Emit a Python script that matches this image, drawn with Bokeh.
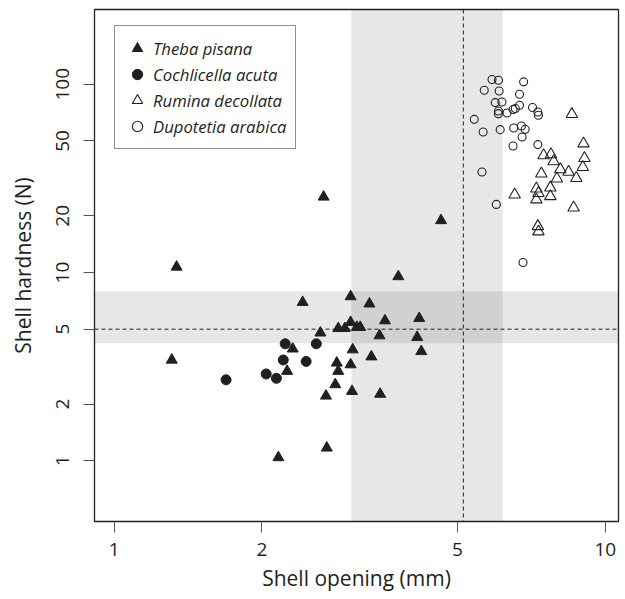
from bokeh.plotting import figure
from bokeh.models import (Range1d, FixedTicker, NumeralTickFormatter, BoxAnnotation,
                          Span, Legend, LegendItem)
from bokeh.embed import file_html
from bokeh.resources import INLINE

# ---- data ----
theba_x = [1.31, 1.34, 2.16, 2.25, 2.31, 2.42, 2.63, 2.67, 2.71, 2.70, 2.82, 2.84, 2.86, 2.86,
           2.95, 3.03, 3.03, 3.03, 3.05, 3.06, 3.12, 3.17, 3.31, 3.34, 3.47, 3.48, 3.56, 3.79,
           4.14, 4.18, 4.22, 4.63]
theba_y = [3.43, 10.7, 1.04, 2.99, 3.93, 6.95, 4.78, 25.2, 1.17, 2.21, 2.54, 3.31, 2.99, 5.05,
           5.05, 7.45, 5.44, 3.24, 2.34, 3.89, 5.12, 5.12, 6.82, 3.57, 4.62, 2.26, 5.55, 9.52,
           4.53, 5.71, 3.81, 18.9]

cochlicella_x = [1.69, 2.04, 2.14, 2.21, 2.23, 2.46, 2.58]
cochlicella_y = [2.69, 2.89, 2.74, 3.43, 4.18, 3.37, 4.18]

rumina_x = [8.55, 9.03, 9.07, 9.00, 7.49, 7.75, 7.85, 8.10, 8.42, 8.73, 7.97, 7.41, 7.73, 7.24,
            7.31, 7.24, 7.73, 6.54, 8.62, 7.29, 7.31]
rumina_y = [69.3, 48.4, 40.5, 36.3, 41.9, 42.4, 38.9, 35.3, 34.2, 31.7, 31.5, 33.5, 28.2, 27.9,
            26.4, 24.4, 25.4, 25.9, 22.1, 17.6, 16.5]

dupotetia_x = [5.88, 6.06, 6.82, 5.67, 6.08, 6.69, 5.97, 6.16, 6.06, 6.06, 6.31, 6.49, 6.56, 6.69,
               7.11, 7.29, 7.31, 5.41, 5.64, 6.11, 6.51, 6.75, 6.87, 6.77, 6.49, 7.29, 5.61, 6.00,
               6.80]
dupotetia_y = [106, 105, 103, 92.9, 92.1, 88.5, 79.9, 80.5, 72.1, 69.8, 70.4, 73.4, 74.3, 77.3,
               75.2, 71.2, 68.4, 65.1, 55.8, 57.4, 58.6, 60.0, 57.6, 52.5, 47.0, 47.8, 34.2, 23.0,
               11.3]

species = ["Theba pisana", "Cochlicella acuta", "Rumina decollata", "Dupotetia arabica"]

# reference bands / lines
opening_band = [3.04, 6.18]
opening_ref = 5.14
hardness_band = [4.21, 7.95]
hardness_ref = 5.0

x_ticks = [1, 2, 5, 10]
y_ticks = [1, 2, 5, 10, 20, 50, 100]

INK = "#231f20"
FONT = "Open Sans"

p = figure(width=625, height=599, x_axis_type="log", y_axis_type="log",
           x_range=Range1d(0.912, 10.64), y_range=Range1d(0.4755, 249.6),
           output_backend="svg", toolbar_location=None,
           min_border_left=94, min_border_right=7, min_border_top=9, min_border_bottom=78)
p.grid.grid_line_color = None
p.outline_line_color = INK
p.outline_line_width = 1.3
p.background_fill_color = "white"
p.border_fill_color = "white"

# bands
shade = dict(fill_color="black", fill_alpha=0.096, line_color=None, level="underlay")
p.add_layout(BoxAnnotation(left=opening_band[0], right=opening_band[1], **shade))
p.add_layout(BoxAnnotation(bottom=hardness_band[0], top=hardness_band[1], **shade))
p.add_layout(Span(location=opening_ref, dimension="height", line_color=INK,
                  line_width=1, line_dash="4 3", level="underlay"))
p.add_layout(Span(location=hardness_ref, dimension="width", line_color=INK,
                  line_width=1, line_dash="4 3", level="underlay"))

r1 = p.scatter(theba_x, theba_y, marker="triangle", size=11, fill_color=INK, line_color=INK)
r2 = p.scatter(cochlicella_x, cochlicella_y, marker="circle", size=10, fill_color=INK, line_color=INK)
r3 = p.scatter(rumina_x, rumina_y, marker="triangle", size=11.5, fill_color=None,
               line_color=INK, line_width=1.1)
r4 = p.scatter(dupotetia_x, dupotetia_y, marker="circle", size=8, fill_color=None,
               line_color=INK, line_width=1.1)

legend = Legend(items=[LegendItem(label=species[0], renderers=[r1]),
                       LegendItem(label=species[1], renderers=[r2]),
                       LegendItem(label=species[2], renderers=[r3]),
                       LegendItem(label=species[3], renderers=[r4])],
                location=(20, 372), padding=9, spacing=0, margin=0,
                glyph_width=26, glyph_height=26, label_height=20, label_standoff=3,
                label_text_font=FONT, label_text_font_style="italic",
                label_text_font_size="16.7px", label_text_color=INK,
                border_line_color=INK, border_line_width=1,
                background_fill_color="white", background_fill_alpha=1.0)
p.add_layout(legend)

for ax in (p.xaxis, p.yaxis):
    ax.axis_line_color = None
    ax.major_tick_line_color = "#555555"
    ax.major_tick_out = 11
    ax.major_tick_in = 0
    ax.minor_tick_line_color = None
    ax.major_label_text_font = FONT
    ax.major_label_text_font_size = "19px"
    ax.major_label_text_color = INK
    ax.axis_label_text_font = FONT
    ax.axis_label_text_font_size = "21px"
    ax.axis_label_text_font_style = "normal"
    ax.axis_label_text_color = INK
    ax.formatter = NumeralTickFormatter(format="0")

p.xaxis.ticker = FixedTicker(ticks=x_ticks)
p.yaxis.ticker = FixedTicker(ticks=y_ticks)
p.xaxis.axis_label = "Shell opening (mm)"
p.yaxis.axis_label = "Shell hardness (N)"
p.yaxis.major_label_orientation = "vertical"
p.xaxis.major_label_standoff = 10
p.yaxis.major_label_standoff = 14
p.xaxis.axis_label_standoff = 5
p.yaxis.axis_label_standoff = 17

open("out.html", "w").write(file_html(p, INLINE))
